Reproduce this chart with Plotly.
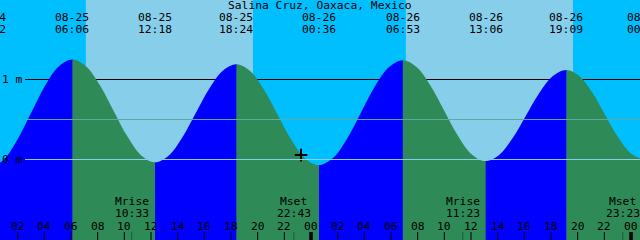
import plotly.graph_objects as go

# ---------------- data ----------------
TITLE = "Salina Cruz, Oaxaca, Mexico"
DAY_OFFSET = {"08-24": -24.0, "08-25": 0.0, "08-26": 24.0, "08-27": 48.0}
WINDOW_START = 0.675      # hours after 08-25 00:00 at the left edge
WINDOW_HOURS = 48.0

# tide height samples (hours after 08-25 00:00, metres)
tide_hours = [-0.133, 0.906, 1.945, 2.984, 4.022, 5.061,
              6.10, 7.133, 8.167, 9.20, 10.233, 11.267,
              12.30, 13.317, 14.333, 15.35, 16.367, 17.383,
              18.40, 19.433, 20.467, 21.50, 22.533, 23.567,
              24.60, 25.647, 26.694, 27.742, 28.789, 29.836,
              30.883, 31.919, 32.955, 33.991, 35.027, 36.064,
              37.10, 38.108, 39.117, 40.125, 41.133, 42.142,
              43.15, 44.117, 45.083, 46.05, 47.017, 47.983,
              48.95]
tide_heights = [-0.10, -0.01, 0.238, 0.575, 0.913, 1.16,
                1.25, 1.164, 0.929, 0.6075, 0.286, 0.051,
                -0.035, 0.047, 0.271, 0.5775, 0.884, 1.108,
                1.19, 1.106, 0.875, 0.56, 0.245, 0.014,
                -0.07, 0.018, 0.2575, 0.585, 0.9125, 1.152,
                1.24, 1.156, 0.925, 0.61, 0.295, 0.064,
                -0.02, 0.056, 0.265, 0.55, 0.835, 1.044,
                1.12, 1.045, 0.84, 0.56, 0.28, 0.075,
                0.0]

# high / low tide events
event_dates = ["08-24", "08-25", "08-25", "08-25", "08-26", "08-26", "08-26", "08-26", "08-27"]
event_times = ["23:52", "06:06", "12:18", "18:24", "00:36", "06:53", "13:06", "19:09", "00:57"]
event_types = ["low", "high", "low", "high", "low", "high", "low", "high", "low"]

# moon events
moon_dates = ["08-25", "08-25", "08-26", "08-26"]
moon_times = ["10:33", "22:43", "11:23", "23:23"]
moon_names = ["Mrise", "Mset", "Mrise", "Mset"]

# daylight spans (sunrise, sunset)
sun_dates = ["08-25", "08-26"]
sunrise_times = ["07:07", "07:07"]
sunset_times = ["19:39", "19:39"]

# reference levels (m)
level_labels = ["1 m", "0 m"]
level_values = [1.0, 0.0]
MEAN_LEVEL = 0.5

# "now" marker
now_hour = 23.25
now_height = 0.055

# hour ticks
tick_hours = list(range(2, 49, 2))
tick_labels = ["%02d" % (h % 24) for h in tick_hours]

# ---------------- styling ----------------
NIGHT = "#00BFFF"
DAY = "#87CEEB"
RISE = "#0000FF"
FALL = "#2E8B57"
FONT = dict(family="DejaVu Sans Mono", size=11.3, color="black")
W, H = 640, 240
Y_RANGE = [-80.5 / 80.0, 159.5 / 80.0]


def hrs(d, hm):
    h, m = hm.split(":")
    return DAY_OFFSET[d] + int(h) + int(m) / 60.0


def frac(t):
    return (t - WINDOW_START) / WINDOW_HOURS


def ypaper(px):
    return 1 - px / H


event_hours = [hrs(d, t) for d, t in zip(event_dates, event_times)]
moon_hours = [hrs(d, t) for d, t in zip(moon_dates, moon_times)]

fig = go.Figure()
layout_axes = {}

# dummy on main axes so the base subplot exists
fig.add_trace(go.Scatter(x=[WINDOW_START], y=[0], mode="markers",
                         marker=dict(opacity=0), hoverinfo="skip"))

ax_n = 2
for i in range(len(event_hours) - 1):
    t_s, t_e = event_hours[i], event_hours[i + 1]
    d0, d1 = frac(t_s), frac(t_e) + 0.6 / W
    if d1 <= 0 or d0 >= 1:
        continue
    d0, d1 = max(0.0, d0), min(1.0, d1)
    r0 = WINDOW_START + d0 * WINDOW_HOURS
    r1 = WINDOW_START + d1 * WINDOW_HOURS
    name = "x%d" % ax_n
    layout_axes["xaxis%d" % ax_n] = dict(domain=[d0, d1], range=[r0, r1],
                                         visible=False, anchor="y", fixedrange=True)
    color = RISE if event_types[i] == "low" else FALL
    fig.add_trace(go.Scatter(x=[tide_hours[0], tide_hours[-1]], y=[-3, -3],
                             mode="lines", line=dict(width=0), xaxis=name,
                             hoverinfo="skip"))
    fig.add_trace(go.Scatter(x=tide_hours, y=tide_heights, mode="lines",
                             line=dict(width=0, shape="spline", color=color),
                             fill="tonexty", fillcolor=color, xaxis=name,
                             hoverinfo="skip"))
    if t_s <= now_hour < t_e:
        fig.add_trace(go.Scatter(x=[now_hour], y=[now_height], mode="markers",
                                 marker=dict(symbol="cross-thin", size=9,
                                             line=dict(width=2, color="black")),
                                 xaxis=name, hoverinfo="skip"))
    ax_n += 1

shapes = []
# daylight background
for d, sr, ss in zip(sun_dates, sunrise_times, sunset_times):
    shapes.append(dict(type="rect", xref="x", yref="paper", x0=hrs(d, sr), x1=hrs(d, ss),
                       y0=0, y1=1, fillcolor=DAY, line=dict(width=0), layer="below"))
# 1 m line (behind the tide)
shapes.append(dict(type="line", xref="paper", yref="y", x0=25 / W, x1=1,
                   y0=level_values[0], y1=level_values[0],
                   line=dict(color="black", width=1), layer="below"))
# mean level and datum lines (above the tide)
shapes.append(dict(type="line", xref="paper", yref="y", x0=26 / W, x1=1,
                   y0=MEAN_LEVEL, y1=MEAN_LEVEL,
                   line=dict(color="#5FA8A0", width=1), layer="above"))
shapes.append(dict(type="line", xref="paper", yref="y", x0=25 / W, x1=1,
                   y0=level_values[1], y1=level_values[1],
                   line=dict(color="#87CEEB", width=1), layer="above"))
# hour ticks
for h in tick_hours:
    wide = (h % 24 == 0)
    shapes.append(dict(type="line", xref="x", yref="paper", x0=h, x1=h,
                       y0=0, y1=8 / H, line=dict(color="black", width=3.5 if wide else 1),
                       layer="above"))
# moon ticks
for mh in moon_hours:
    shapes.append(dict(type="line", xref="x", yref="paper", x0=mh, x1=mh,
                       y0=0, y1=8 / H, line=dict(color="rgba(0,0,0,0.35)", width=1),
                       layer="above"))

ann = []
ann.append(dict(text=TITLE, xref="paper", yref="paper", x=0.5, y=ypaper(5.5),
                showarrow=False, font=FONT, xanchor="center", yanchor="middle", borderpad=0))
for d, t, eh in zip(event_dates, event_times, event_hours):
    ann.append(dict(text=d, xref="paper", yref="paper", x=frac(eh), y=ypaper(17.5),
                    showarrow=False, font=FONT, xanchor="center", yanchor="middle",
                    borderpad=0))
    ann.append(dict(text=t, xref="paper", yref="paper", x=frac(eh), y=ypaper(29.2),
                    showarrow=False, font=FONT, xanchor="center", yanchor="middle",
                    borderpad=0))
for n, t, mh in zip(moon_names, moon_times, moon_hours):
    ann.append(dict(text=n, xref="x", yref="paper", x=mh, y=ypaper(201), showarrow=False,
                    font=FONT, xanchor="center", yanchor="middle", borderpad=0))
    ann.append(dict(text=t, xref="x", yref="paper", x=mh, y=ypaper(213), showarrow=False,
                    font=FONT, xanchor="center", yanchor="middle", borderpad=0))
for h, lab in zip(tick_hours, tick_labels):
    ann.append(dict(text=lab, xref="x", yref="paper", x=h, y=ypaper(226), showarrow=False,
                    font=FONT, xanchor="center", yanchor="middle", borderpad=0))
for lab, v in zip(level_labels, level_values):
    ann.append(dict(text=lab, xref="paper", yref="y", x=1 / W, y=v, showarrow=False,
                    font=FONT, xanchor="left", yanchor="middle", borderpad=0))

fig.update_layout(
    width=W, height=H, margin=dict(l=0, r=0, t=0, b=0),
    paper_bgcolor=NIGHT, plot_bgcolor="rgba(0,0,0,0)",
    showlegend=False,
    xaxis=dict(domain=[0, 1], range=[WINDOW_START, WINDOW_START + WINDOW_HOURS],
               visible=False, fixedrange=True, anchor="y"),
    yaxis=dict(domain=[0, 1], range=Y_RANGE, visible=False, fixedrange=True, anchor="x"),
    shapes=shapes, annotations=ann,
    **layout_axes,
)

fig.write_html("out.html")
